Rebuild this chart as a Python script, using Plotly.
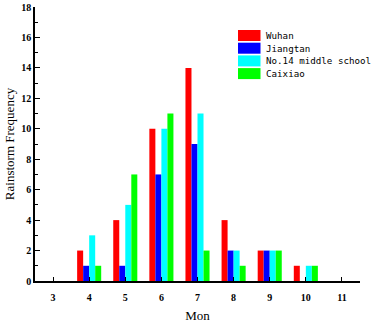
import plotly.graph_objects as go

months = [3, 4, 5, 6, 7, 8, 9, 10, 11]
series_names = ["Wuhan", "Jiangtan", "No.14 middle school", "Caixiao"]
wuhan = [0, 2, 4, 10, 14, 4, 2, 1, 0]
jiangtan = [0, 1, 1, 7, 9, 2, 2, 0, 0]
no14 = [0, 3, 5, 10, 11, 2, 2, 1, 0]
caixiao = [0, 1, 7, 11, 2, 1, 2, 1, 0]
colors = ["#FF0000", "#0000FF", "#00FFFF", "#00FF00"]

fig = go.Figure()
for name, vals, c in zip(series_names, [wuhan, jiangtan, no14, caixiao], colors):
    fig.add_trace(go.Bar(x=months, y=vals, name=name, marker=dict(color=c, line=dict(width=0)),
                         showlegend=False))

# custom legend (wide swatches like the original)
L, R, T, B = 35, 13, 7, 44
W, H = 373 - L - R, 325 - T - B
def px_x(p):
    return (p - L) / W
def px_y(p):
    return (325 - B - p) / H
for i, (name, c) in enumerate(zip(series_names, colors)):
    top = 30 + i * 12.7
    fig.add_shape(type="rect", xref="paper", yref="paper",
                  x0=px_x(238), x1=px_x(260.5), y0=px_y(top + 11), y1=px_y(top),
                  fillcolor=c, line=dict(width=0))
    fig.add_annotation(xref="paper", yref="paper", x=px_x(264), y=px_y(top + 5.5),
                       text=name, showarrow=False, xanchor="left", yanchor="middle",
                       font=dict(family="DejaVu Sans Mono", size=9.2, color="black"))

fig.update_layout(
    width=373, height=325,
    margin=dict(l=L, r=R, t=T, b=B),
    paper_bgcolor="white", plot_bgcolor="white",
    barmode="group", bargap=1/3, bargroupgap=0,
    font=dict(family="Liberation Serif", color="black"),
    xaxis=dict(range=[2.5, 11.5], tickmode="array", tickvals=months, ticktext=[str(m) for m in months],
               automargin=False,
               showline=True, linecolor="black", linewidth=1.5, ticks="inside", ticklen=4,
               tickwidth=1, tickcolor="black", showgrid=False, zeroline=False,
               ticklabelstandoff=6,
               tickfont=dict(family="Liberation Serif", size=10, weight="bold"),
               title=dict(text="Mon", font=dict(family="Liberation Serif", size=13), standoff=9)),
    yaxis=dict(range=[0, 18], dtick=2, showline=True, linecolor="black", linewidth=1.5,
               automargin=False,
               ticks="inside", ticklen=5, tickwidth=1, tickcolor="black",
               minor=dict(ticks="inside", ticklen=3, dtick=1, tickcolor="black"),
               showgrid=False, zeroline=False,
               tickfont=dict(family="Liberation Serif", size=10, weight="bold"),
               title=dict(text="Rainstorm Frequency", font=dict(family="Liberation Serif", size=13), standoff=4)),
)

fig.write_html("out.html", config={"displayModeBar": False},
               post_script="document.body.style.margin='0';")
